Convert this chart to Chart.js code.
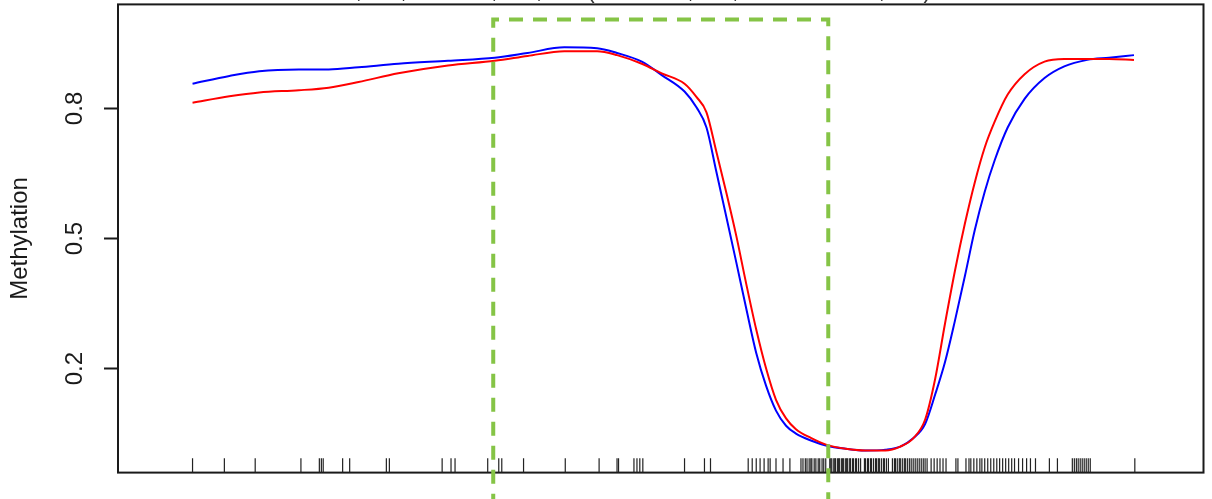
<!DOCTYPE html>
<html>
<head>
<meta charset="utf-8">
<title>DMR methylation</title>
<script src="https://cdn.jsdelivr.net/npm/chart.js@4/dist/chart.umd.min.js"></script>
<style>
  html, body { margin: 0; padding: 0; background: #fff; overflow: hidden; }
  #wrap { position: relative; width: 1212px; height: 499px; overflow: hidden; }
  #plot { position: absolute; left: 0; top: -40px; }
</style>
</head>
<body>
<div id="wrap"><canvas id="plot" width="1212" height="539"></canvas></div>
<script>
// region + DMR
const chrom = 'chr1';
const dmrStart = 20232000;
const dmrEnd = 20234000;
const extend = 2000;

// smoothed methylation along the region (bp positions)
const positions = [
  20230205, 20230425, 20230603, 20230840, 20231018, 20231196, 20231433, 20231730, 20232009, 20232205,
  20232424, 20232620, 20232739, 20232887, 20233006, 20233142, 20233214, 20233273, 20233332, 20233392,
  20233451, 20233510, 20233570, 20233629, 20233688, 20233748, 20233807, 20233896, 20233991, 20234104,
  20234222, 20234341, 20234430, 20234507, 20234578, 20234638, 20234697, 20234756, 20234816, 20234875,
  20234934, 20234994, 20235071, 20235172, 20235291, 20235409, 20235546, 20235676, 20235825
];
const groupBlue = [
  0.857, 0.875, 0.886, 0.890, 0.890, 0.895, 0.903, 0.910, 0.917, 0.928,
  0.941, 0.939, 0.928, 0.908, 0.877, 0.839, 0.802, 0.756, 0.654, 0.549,
  0.445, 0.339, 0.236, 0.160, 0.103, 0.068, 0.050, 0.034, 0.022, 0.015,
  0.011, 0.013, 0.020, 0.039, 0.072, 0.140, 0.215, 0.310, 0.414, 0.520,
  0.608, 0.681, 0.756, 0.822, 0.870, 0.897, 0.912, 0.917, 0.923
];
const groupRed = [
  0.813, 0.828, 0.837, 0.842, 0.848, 0.861, 0.881, 0.899, 0.910, 0.921,
  0.932, 0.932, 0.923, 0.903, 0.881, 0.857, 0.826, 0.791, 0.700, 0.605,
  0.506, 0.396, 0.290, 0.200, 0.128, 0.085, 0.060, 0.040, 0.024, 0.015,
  0.011, 0.011, 0.020, 0.039, 0.082, 0.176, 0.304, 0.425, 0.535, 0.630,
  0.710, 0.770, 0.832, 0.879, 0.908, 0.914, 0.914, 0.914, 0.912
];

// CpG sites for the rug
const cpgSites = [
  20230205, 20230395, 20230579, 20230852, 20230962, 20230974, 20230985, 20231101, 20231143, 20231362,
  20231380, 20231695, 20231748, 20231772, 20231967, 20232033, 20232051, 20232181, 20232430, 20232632,
  20232739, 20232748, 20232840, 20232858, 20232875, 20232893, 20233142, 20233261, 20233297, 20233522,
  20233546, 20233570, 20233593, 20233617, 20233641, 20233653, 20233688, 20233730, 20233771,
  20233837, 20233849, 20233863, 20233873, 20233886, 20233896, 20233902, 20233916, 20233926, 20233940,
  20233949, 20233963, 20233973, 20233985, 20234009, 20234015, 20234021, 20234033, 20234039, 20234044,
  20234056, 20234062, 20234068, 20234080, 20234086, 20234092, 20234104, 20234110, 20234116, 20234128,
  20234133, 20234145, 20234151, 20234163, 20234169, 20234181, 20234193, 20234216, 20234222, 20234234,
  20234240, 20234252, 20234258, 20234270, 20234282, 20234288, 20234299, 20234305, 20234317, 20234329,
  20234335, 20234347, 20234359, 20234383, 20234395, 20234401, 20234412, 20234424, 20234430, 20234442,
  20234454, 20234460, 20234472, 20234484, 20234495, 20234507, 20234519, 20234531, 20234543, 20234555,
  20234567, 20234578, 20234590, 20234614, 20234632, 20234650, 20234667, 20234685, 20234703, 20234762,
  20234774, 20234822, 20234840, 20234851, 20234869, 20234887, 20234905, 20234917, 20234934, 20234952,
  20234970, 20234988, 20235006, 20235023, 20235041, 20235059, 20235077, 20235095, 20235112, 20235136,
  20235160, 20235184, 20235207, 20235237, 20235320, 20235368, 20235457, 20235469, 20235481, 20235492,
  20235504, 20235516, 20235528, 20235540, 20235552, 20235564, 20235830
];

const yTicks = [0.2, 0.5, 0.8];

const fmt = n => n.toLocaleString('en-US');
const titleText = chrom + ':' + fmt(dmrStart) + ' - ' + fmt(dmrEnd) +
  ' (width = ' + fmt(dmrEnd - dmrStart) + ', extended = ' + fmt(extend) + ')';

// R-style 4% axis padding
const xlo = dmrStart - extend, xhi = dmrEnd + extend;
const xpad = (xhi - xlo) * 0.04;
const ypad = 0.04;

const ink = '#1a1a1a';
const family = '"Liberation Sans", Arial, Helvetica, sans-serif';

const frame = {
  id: 'frame',
  beforeDatasetsDraw(chart) {
    const { ctx, chartArea: a } = chart;
    ctx.save();
    ctx.strokeStyle = ink;
    ctx.lineWidth = 2;
    ctx.strokeRect(a.left, a.top, a.right - a.left, a.bottom - a.top);
    ctx.restore();
  }
};

const dmrBox = {
  id: 'dmrBox',
  afterDatasetsDraw(chart) {
    const { ctx } = chart;
    const xs = chart.scales.x, ys = chart.scales.y;
    const x0 = xs.getPixelForValue(dmrStart);
    const x1 = xs.getPixelForValue(dmrEnd);
    const y0 = ys.getPixelForValue(1.005);
    const y1 = ys.getPixelForValue(-0.12);
    ctx.save();
    ctx.strokeStyle = '#85c446';
    ctx.lineWidth = 4;
    ctx.setLineDash([14, 10]);
    ctx.beginPath();
    ctx.moveTo(x0, y1);
    ctx.lineTo(x1, y1);
    ctx.lineTo(x1, y0);
    ctx.lineTo(x0, y0);
    ctx.closePath();
    ctx.stroke();
    ctx.restore();
  }
};

const line = (vals, color) => ({
  type: 'line',
  data: positions.map((p, i) => ({ x: p, y: vals[i] })),
  borderColor: color,
  borderWidth: 2,
  pointRadius: 0,
  cubicInterpolationMode: 'monotone',
  fill: false
});

new Chart(document.getElementById('plot'), {
  type: 'scatter',
  data: {
    datasets: [
      line(groupRed, '#ff0000'),
      line(groupBlue, '#0000ff'),
      {
        type: 'scatter',
        data: cpgSites.map(p => ({ x: p, y: -ypad + 0.0162 })),
        pointStyle: 'line',
        rotation: 90,
        radius: 7.3,
        borderWidth: 1.2,
        borderColor: '#222',
        backgroundColor: '#222'
      }
    ]
  },
  options: {
    responsive: false,
    animation: false,
    events: [],
    layout: { padding: { left: 0, right: 2, top: 0, bottom: 5 } },
    plugins: {
      legend: { display: false },
      tooltip: { enabled: false },
      title: {
        display: true,
        text: titleText,
        color: '#333',
        font: { family, size: 23, weight: 'normal', lineHeight: 0.8 },
        padding: { top: 22, bottom: 4 }
      }
    },
    scales: {
      x: {
        type: 'linear',
        display: false,
        min: xlo - xpad,
        max: xhi + xpad
      },
      y: {
        min: 0 - ypad,
        max: 1 + ypad,
        afterBuildTicks: s => { s.ticks = yTicks.map(v => ({ value: v })); },
        afterFit: s => { s.width = 118; },
        border: { display: false },
        grid: { drawOnChartArea: false, tickLength: 14, tickWidth: 2, tickColor: ink },
        ticks: {
          minRotation: 90,
          maxRotation: 90,
          crossAlign: 'center',
          padding: 12,
          color: ink,
          font: { family, size: 24 },
          callback: v => v.toFixed(1)
        },
        title: {
          display: true,
          text: 'Methylation',
          color: ink,
          font: { family, size: 24 },
          padding: { top: 6, bottom: 0 }
        }
      }
    }
  },
  plugins: [frame, dmrBox]
});
</script>
</body>
</html>
